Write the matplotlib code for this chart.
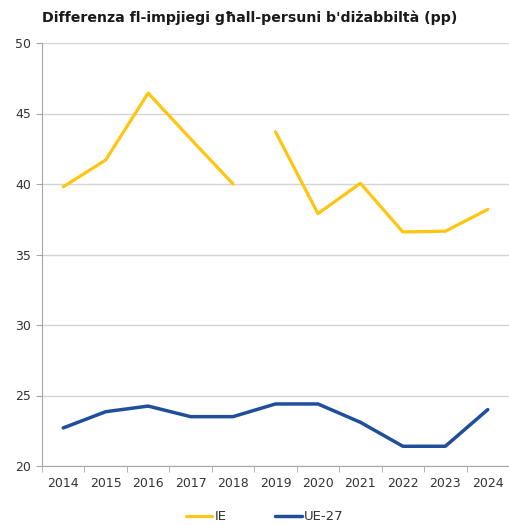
import matplotlib
matplotlib.use("Agg")
import matplotlib.pyplot as plt
import numpy as np

years = [2014, 2015, 2016, 2017, 2018, 2019, 2020, 2021, 2022, 2023, 2024]
ie = [39.8, 41.7, 46.45, 43.2, 40.0, 43.7, 37.9, 40.05, 36.6, 36.65, 38.2]
ue27 = [22.7, 23.85, 24.25, 23.5, 23.5, 24.4, 24.4, 23.1, 21.4, 21.4, 24.0]
# IE series has a break between 2018 and 2019
ie_break = 5

title = "Differenza fl-impjiegi għall-persuni b'diżabbiltà (pp)"

fig = plt.figure(figsize=(5.09, 5.25), dpi=100)
ax = fig.add_axes([42 / 509, 59 / 525, 467 / 509, 423 / 525])

x = np.arange(len(years))
yellow = "#FFC50F"
blue = "#1F4E9A"

ax.plot(x[:ie_break], ie[:ie_break], color=yellow, lw=2.3,
        solid_joinstyle="round", solid_capstyle="round", label="IE")
ax.plot(x[ie_break:], ie[ie_break:], color=yellow, lw=2.3,
        solid_joinstyle="round", solid_capstyle="round")
ax.plot(x, ue27, color=blue, lw=2.5, solid_joinstyle="round",
        solid_capstyle="round", label="UE-27")

ax.set_xlim(-0.5, len(years) - 0.5)
ax.set_ylim(20, 50)
ax.set_yticks(range(20, 51, 5))
ax.set_xticks(x)
ax.set_xticklabels([str(y) for y in years])
ax.set_xticks(np.arange(-0.5, len(years)), minor=True)

ax.yaxis.grid(True, color="#d4d4d4", lw=1)
ax.set_axisbelow(True)
for s in ["top", "right"]:
    ax.spines[s].set_visible(False)
ax.spines["left"].set_color("#a6a6a6")
ax.spines["bottom"].set_color("#a6a6a6")

ax.tick_params(axis="y", length=4, color="#a6a6a6", labelsize=9,
               labelcolor="#333333", pad=4)
ax.tick_params(axis="x", which="major", length=0, labelsize=9,
               labelcolor="#333333", pad=8)
ax.tick_params(axis="x", which="minor", length=4, color="#a6a6a6")

fig.text(42 / 509, 1 - 18 / 525, title, fontsize=10.2, fontweight="bold",
         color="#1a1a1a", va="center", ha="left")

fig.legend(loc="center", bbox_to_anchor=(0.52, 1 - 517 / 525), ncol=2,
           frameon=False, fontsize=9.5, handlelength=2.0, handletextpad=0.15,
           columnspacing=3.7, labelcolor="#333333")

fig.savefig("out.png", dpi=100)
